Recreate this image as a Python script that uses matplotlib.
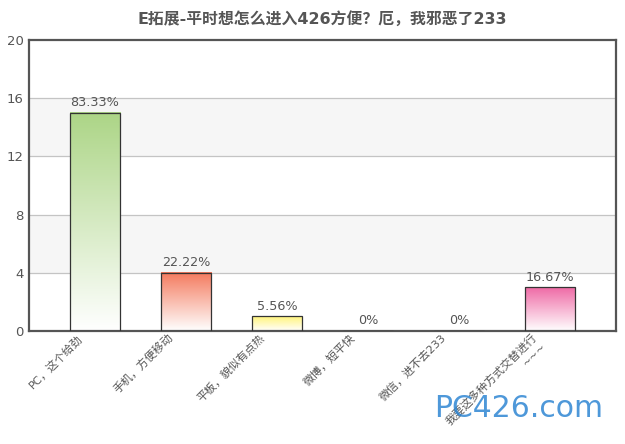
import numpy as np
import matplotlib
matplotlib.use("Agg")
import matplotlib.pyplot as plt
import matplotlib.transforms as mtransforms
from matplotlib.colors import LinearSegmentedColormap

plt.rcParams['font.family'] = ['DejaVu Sans', 'Noto Sans CJK SC']

title = 'E拓展-平时想怎么进入426方便？厄，我邪恶了233'
categories = ['PC，这个给劲', '手机，方便移动', '平板，貌似有点热',
              '微博，短平快', '微信，进不去233', '我要这多种方式交替进行\n~~~']
counts = [15, 4, 1, 0, 0, 3]
percents = ['83.33%', '22.22%', '5.56%', '0%', '0%', '16.67%']
top_colors = ['#acd586', '#f47a5e', '#fff47a', '#cccccc', '#cccccc', '#ef6aa5']
yticks = [0, 4, 8, 12, 16, 20]

fig = plt.figure(figsize=(6.25, 4.44), dpi=100)
ax = fig.add_axes([0.0464, 0.2545, 0.9392, 0.6554])

x = np.arange(len(categories))

# alternating bands
for i in range(len(yticks) - 1):
    if i % 2 == 1:
        ax.axhspan(yticks[i], yticks[i + 1], color='#f6f6f6', zorder=0, lw=0)
for t in yticks[1:-1]:
    ax.axhline(t, color='#c4c4c4', lw=0.9, zorder=1)

bars = ax.bar(x, counts, width=0.55, facecolor='none', edgecolor='#333333',
              linewidth=0.9, zorder=3)

# gradient fill
grad = np.linspace(0, 1, 256).reshape(-1, 1)
for b, c in zip(bars, top_colors):
    h = b.get_height()
    if h <= 0:
        continue
    cmap = LinearSegmentedColormap.from_list('g', ['#ffffff', c])
    ax.imshow(grad, aspect='auto', cmap=cmap, origin='lower',
              extent=(b.get_x(), b.get_x() + b.get_width(), 0, h), zorder=2)

for xi, h, p in zip(x, counts, percents):
    ax.text(xi, h + 0.25, p, ha='center', va='bottom', fontsize=9.2, color='#555555')

ax.set_xlim(-0.725, len(categories) - 0.275)
ax.set_ylim(0, 20)

ax.set_yticks(yticks)
ax.tick_params(axis='y', length=0, labelsize=9.5, labelcolor='#555555', pad=4)
ax.set_xticks(x)
ax.set_xticklabels(categories, rotation=45, ha='right', rotation_mode='anchor',
                   fontsize=8.1, color='#555555', multialignment='right')
ax.tick_params(axis='x', length=0, pad=1)
shift = mtransforms.ScaledTranslation(-18 / 100, 0, fig.dpi_scale_trans)
for lbl in ax.get_xticklabels():
    lbl.set_transform(lbl.get_transform() + shift)

for s in ax.spines.values():
    s.set_color('#555555')
    s.set_linewidth(1.6)

fig.text(0.516, 0.958, title, ha='center', va='center', fontsize=11.4,
         fontweight='bold', color='#555555')

# watermark
fig.text(0.695, 0.081, 'PC426.com', fontsize=21.5, color='#2f86d3', alpha=0.85,
         ha='left', va='center', zorder=5)

fig.savefig('out.png', dpi=100)
